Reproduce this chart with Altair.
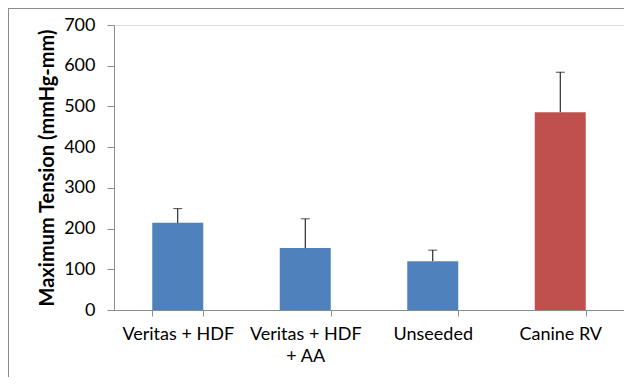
import altair as alt
import pandas as pd

categories = ["Veritas + HDF", "Veritas + HDF + AA", "Unseeded", "Canine RV"]
values = [214, 152, 120, 486]
upper = [249, 224, 147, 584]
colors = ["#4F81BD", "#4F81BD", "#4F81BD", "#C0504D"]

df = pd.DataFrame({"cat": categories, "val": values, "up": upper, "col": colors})

FONT = "Lato"
label_expr = "datum.label == 'Veritas + HDF + AA' ? ['Veritas + HDF', '+ AA'] : datum.label"

x = alt.X("cat:N", sort=categories, title=None,
          scale=alt.Scale(paddingInner=0.6, paddingOuter=0.3),
          axis=alt.Axis(labelAngle=0, labelExpr=label_expr, tickBand="extent",
                        labelFontSize=18, labelFont=FONT, labelColor="#000000",
                        labelPadding=9, tickSize=6, domainColor="#8C8C8C",
                        tickColor="#8C8C8C", labelLineHeight=22, labelBaseline="top"))
y = alt.Y("val:Q", title="Maximum Tension (mmHg-mm)",
          scale=alt.Scale(domain=[0, 700], nice=False),
          axis=alt.Axis(values=[0, 100, 200, 300, 400, 500, 600, 700], grid=False,
                        labelFontSize=18, labelFont=FONT, labelColor="#000000",
                        labelPadding=12, tickSize=7, domainColor="#8C8C8C",
                        tickColor="#8C8C8C", titleFontSize=20, titleFont=FONT,
                        titleFontWeight="bold", titleColor="#000000", titlePadding=6))

bars = alt.Chart(df).mark_bar().encode(
    x=x, y=y, color=alt.Color("col:N", scale=None))

err = alt.Chart(df).mark_rule(color="#000000", strokeWidth=1).encode(
    x=alt.X("cat:N", sort=categories), y="val:Q", y2="up:Q")

cap = alt.Chart(df).mark_tick(color="#000000", thickness=1, size=9).encode(
    x=alt.X("cat:N", sort=categories), y="up:Q")

frame_left = alt.Chart(df).mark_rule(color="#8C8C8C", strokeWidth=1).encode(
    x=alt.value(-105.5), y=alt.value(-17), y2=alt.value(360))
frame_top = alt.Chart(df).mark_rule(color="#8C8C8C", strokeWidth=1).encode(
    y=alt.value(-16.5), x=alt.value(-106), x2=alt.value(520))

chart = alt.layer(bars, err, cap, frame_left, frame_top).properties(
    width=510, height=285,
    autosize=alt.AutoSizeParams(type="none"),
    padding={"left": 106, "top": 17, "right": 0, "bottom": 67},
).configure_view(stroke=None).configure(background="white")

chart.save("out.html", embed_options={"renderer": "svg", "actions": False})
